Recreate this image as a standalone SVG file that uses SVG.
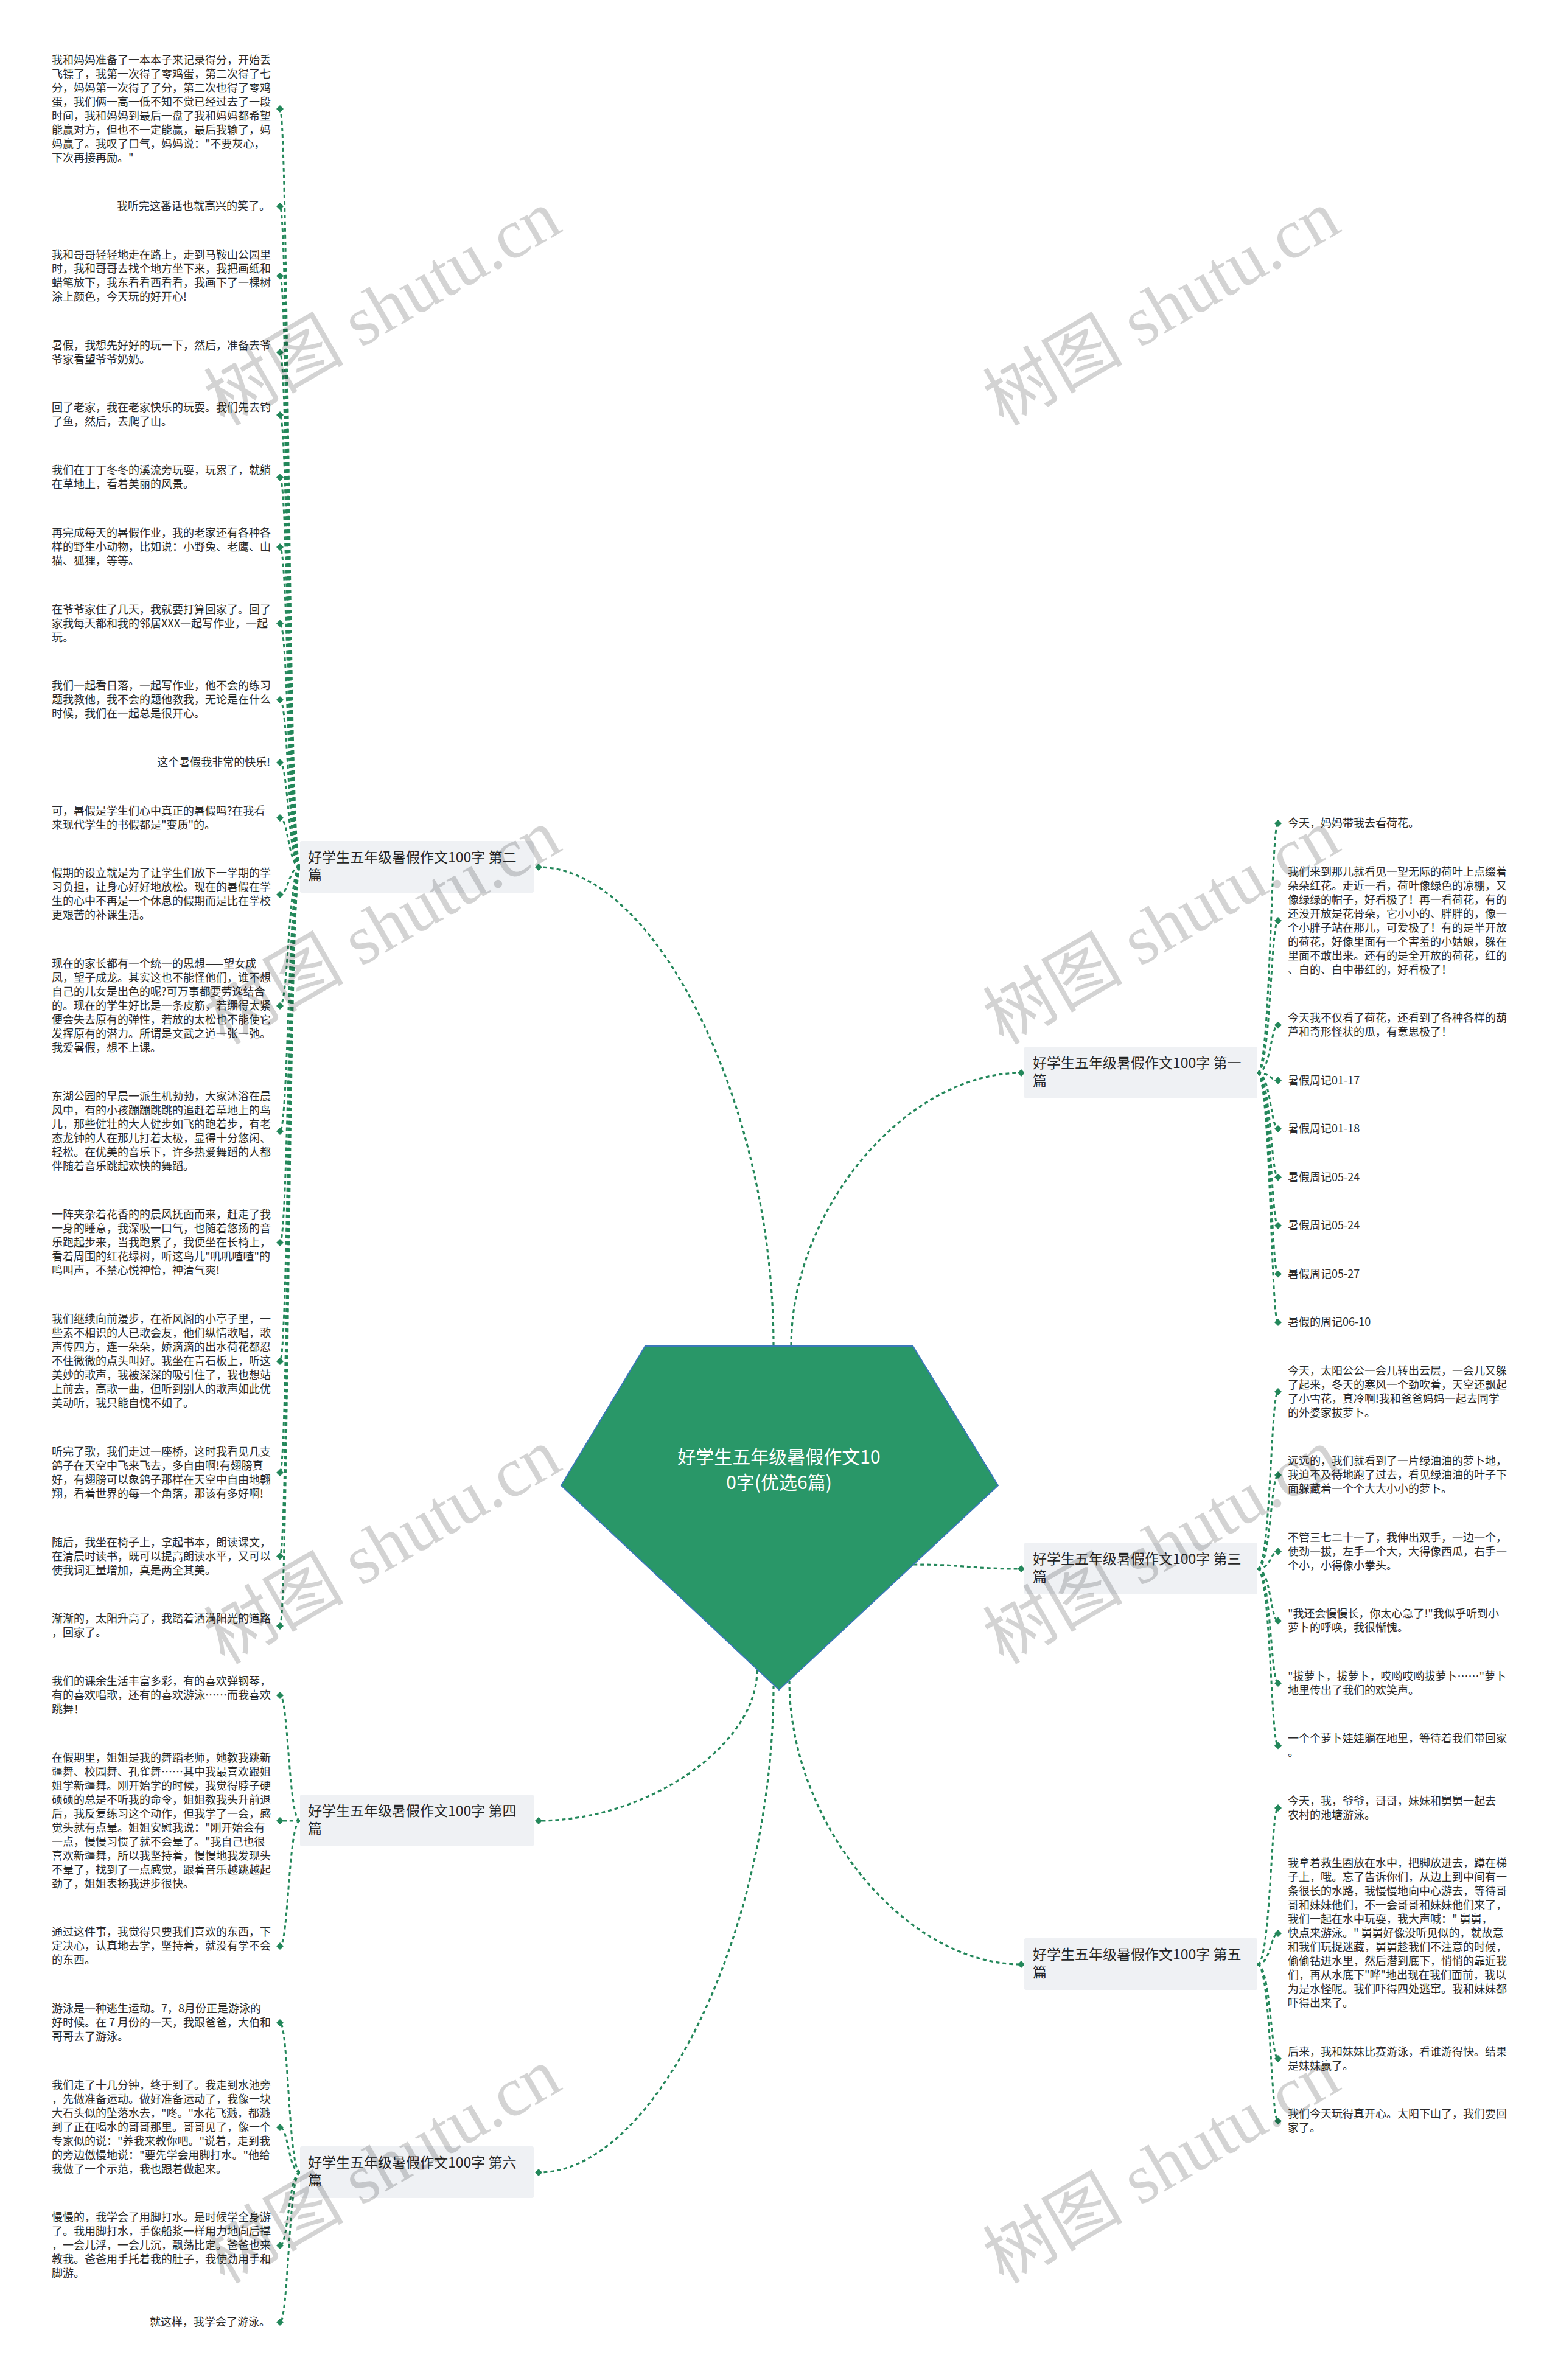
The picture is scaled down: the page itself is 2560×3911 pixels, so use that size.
<svg xmlns="http://www.w3.org/2000/svg" width="2560" height="3911" viewBox="0 0 2560 3911">
<style>
.leaf{font-family:"Noto Sans CJK SC","Noto Sans",sans-serif;font-size:18px;fill:#2b2b2b}
.br{font-family:"Noto Sans CJK SC","Noto Sans",sans-serif;font-size:23px;fill:#262626}
.box{fill:#eff1f4;stroke:none}
.conn{fill:none;stroke:#23875a;stroke-width:3.2;stroke-dasharray:6 5}
.lc{fill:none;stroke:#23875a;stroke-width:3;stroke-dasharray:6 5}
.ctext{font-family:"Noto Sans CJK SC","Noto Sans",sans-serif;font-size:30px;fill:#ffffff}
.wm{font-family:"Liberation Serif","Noto Sans CJK SC",serif;font-size:115px;fill:#000;opacity:0.17}
</style>
<defs>
<marker id="dia" viewBox="0 0 12 12" refX="6" refY="6" markerWidth="12" markerHeight="12" markerUnits="userSpaceOnUse" orient="auto">
<path d="M6 0 L12 6 L6 12 L0 6 Z" fill="#23875a"/>
</marker>
</defs>
<rect width="2560" height="3911" fill="#ffffff"/>

<g id="connectors">
<path class="conn" marker-end="url(#dia)" d="M1271 2212 C1271 1818,1078 1425,885 1425"/>
<path class="conn" marker-end="url(#dia)" d="M1300 2212 C1300 1987,1489 1763,1678 1763"/>
<path class="conn" marker-end="url(#dia)" d="M1501 2571 C1590 2571,1590 2578,1678 2578"/>
<path class="conn" marker-end="url(#dia)" d="M1244 2745 C1244 2868,1064 2992,885 2992"/>
<path class="conn" marker-end="url(#dia)" d="M1271 2770 C1271 3170,1078 3570,885 3570"/>
<path class="conn" marker-end="url(#dia)" d="M1297 2762 C1297 2995,1487 3228,1678 3228"/>
<g marker-end="url(#dia)">
<path class="lc" d="M493 1425 C474 1425,474 179,460 179"/>
<path class="lc" d="M493 1425 C474 1425,474 339,460 339"/>
<path class="lc" d="M493 1425 C474 1425,474 453.5,460 453.5"/>
<path class="lc" d="M493 1425 C474 1425,474 579,460 579"/>
<path class="lc" d="M493 1425 C474 1425,474 682,460 682"/>
<path class="lc" d="M493 1425 C474 1425,474 784.5,460 784.5"/>
<path class="lc" d="M493 1425 C474 1425,474 899,460 899"/>
<path class="lc" d="M493 1425 C474 1425,474 1024.5,460 1024.5"/>
<path class="lc" d="M493 1425 C474 1425,474 1150,460 1150"/>
<path class="lc" d="M493 1425 C474 1425,474 1253,460 1253"/>
<path class="lc" d="M493 1425 C474 1425,474 1344,460 1344"/>
<path class="lc" d="M493 1425 C474 1425,474 1470,460 1470"/>
<path class="lc" d="M493 1425 C474 1425,474 1653,460 1653"/>
<path class="lc" d="M493 1425 C474 1425,474 1859,460 1859"/>
<path class="lc" d="M493 1425 C474 1425,474 2042,460 2042"/>
<path class="lc" d="M493 1425 C474 1425,474 2237,460 2237"/>
<path class="lc" d="M493 1425 C474 1425,474 2420,460 2420"/>
<path class="lc" d="M493 1425 C474 1425,474 2557.5,460 2557.5"/>
<path class="lc" d="M493 1425 C474 1425,474 2672,460 2672"/>
<path class="lc" d="M493 2992 C474 2992,474 2786,460 2786"/>
<path class="lc" d="M493 2992 C474 2992,474 2992,460 2992"/>
<path class="lc" d="M493 2992 C474 2992,474 3198,460 3198"/>
<path class="lc" d="M493 3570 C474 3570,474 3324,460 3324"/>
<path class="lc" d="M493 3570 C474 3570,474 3496,460 3496"/>
<path class="lc" d="M493 3570 C474 3570,474 3690,460 3690"/>
<path class="lc" d="M493 3570 C474 3570,474 3816,460 3816"/>
<path class="lc" d="M2066 1763 C2088 1763,2088 1353,2100 1353"/>
<path class="lc" d="M2066 1763 C2088 1763,2088 1513,2100 1513"/>
<path class="lc" d="M2066 1763 C2088 1763,2088 1684.5,2100 1684.5"/>
<path class="lc" d="M2066 1763 C2088 1763,2088 1775.5,2100 1775.5"/>
<path class="lc" d="M2066 1763 C2088 1763,2088 1855,2100 1855"/>
<path class="lc" d="M2066 1763 C2088 1763,2088 1934.5,2100 1934.5"/>
<path class="lc" d="M2066 1763 C2088 1763,2088 2014,2100 2014"/>
<path class="lc" d="M2066 1763 C2088 1763,2088 2093.5,2100 2093.5"/>
<path class="lc" d="M2066 1763 C2088 1763,2088 2173,2100 2173"/>
<path class="lc" d="M2066 2578 C2088 2578,2088 2287,2100 2287"/>
<path class="lc" d="M2066 2578 C2088 2578,2088 2424,2100 2424"/>
<path class="lc" d="M2066 2578 C2088 2578,2088 2549.5,2100 2549.5"/>
<path class="lc" d="M2066 2578 C2088 2578,2088 2663.5,2100 2663.5"/>
<path class="lc" d="M2066 2578 C2088 2578,2088 2766,2100 2766"/>
<path class="lc" d="M2066 2578 C2088 2578,2088 2868.5,2100 2868.5"/>
<path class="lc" d="M2066 3228 C2088 3228,2088 2971,2100 2971"/>
<path class="lc" d="M2066 3228 C2088 3228,2088 3177,2100 3177"/>
<path class="lc" d="M2066 3228 C2088 3228,2088 3383,2100 3383"/>
<path class="lc" d="M2066 3228 C2088 3228,2088 3485.5,2100 3485.5"/>
</g>
</g>

<g id="center">
<polygon points="1060,2212 1500,2212 1640,2441 1280,2777 922,2441" fill="#299768" stroke="#3a78b8" stroke-width="2"/>
<text class="ctext" text-anchor="middle"><tspan x="1280" y="2405">好学生五年级暑假作文10</tspan><tspan x="1280" y="2447">0字(优选6篇)</tspan></text>
</g>

<g id="branch1">
<rect class="box" x="1683" y="1720" width="383" height="85" rx="3"/>
<text class="br"><tspan x="1697" y="1755">好学生五年级暑假作文100字 第一</tspan><tspan x="1697" y="1784">篇</tspan></text>
</g>
<g id="branch2">
<rect class="box" x="493" y="1382" width="384" height="85" rx="3"/>
<text class="br"><tspan x="506" y="1417">好学生五年级暑假作文100字 第二</tspan><tspan x="506" y="1446">篇</tspan></text>
</g>
<g id="branch3">
<rect class="box" x="1683" y="2535" width="383" height="85" rx="3"/>
<text class="br"><tspan x="1697" y="2570">好学生五年级暑假作文100字 第三</tspan><tspan x="1697" y="2599">篇</tspan></text>
</g>
<g id="branch4">
<rect class="box" x="493" y="2949" width="384" height="85" rx="3"/>
<text class="br"><tspan x="506" y="2984">好学生五年级暑假作文100字 第四</tspan><tspan x="506" y="3013">篇</tspan></text>
</g>
<g id="branch5">
<rect class="box" x="1683" y="3185" width="383" height="85" rx="3"/>
<text class="br"><tspan x="1697" y="3220">好学生五年级暑假作文100字 第五</tspan><tspan x="1697" y="3249">篇</tspan></text>
</g>
<g id="branch6">
<rect class="box" x="493" y="3527" width="384" height="85" rx="3"/>
<text class="br"><tspan x="506" y="3562">好学生五年级暑假作文100字 第六</tspan><tspan x="506" y="3591">篇</tspan></text>
</g>

<g id="leaves-left">
<text id="l2-1" class="leaf"><tspan x="85" y="104.6">我和妈妈准备了一本本子来记录得分，开始丢</tspan><tspan x="85" dy="23">飞镖了，我第一次得了零鸡蛋，第二次得了七</tspan><tspan x="85" dy="23">分，妈妈第一次得了了分，第二次也得了零鸡</tspan><tspan x="85" dy="23">蛋，我们俩一高一低不知不觉已经过去了一段</tspan><tspan x="85" dy="23">时间，我和妈妈到最后一盘了我和妈妈都希望</tspan><tspan x="85" dy="23">能赢对方，但也不一定能赢，最后我输了，妈</tspan><tspan x="85" dy="23">妈赢了。我叹了口气，妈妈说："不要灰心，</tspan><tspan x="85" dy="23">下次再接再励。"</tspan></text>
<text id="l2-2" class="leaf" x="444" y="345.3" text-anchor="end">我听完这番话也就高兴的笑了。</text>
<text id="l2-3" class="leaf"><tspan x="85" y="425">我和哥哥轻轻地走在路上，走到马鞍山公园里</tspan><tspan x="85" dy="23">时，我和哥哥去找个地方坐下来，我把画纸和</tspan><tspan x="85" dy="23">蜡笔放下，我东看看西看看，我画下了一棵树</tspan><tspan x="85" dy="23">涂上颜色，今天玩的好开心!</tspan></text>
<text id="l2-4" class="leaf"><tspan x="85" y="573.7">暑假，我想先好好的玩一下，然后，准备去爷</tspan><tspan x="85" dy="23">爷家看望爷爷奶奶。</tspan></text>
<text id="l2-5" class="leaf"><tspan x="85" y="676.4">回了老家，我在老家快乐的玩耍。我们先去钓</tspan><tspan x="85" dy="23">了鱼，然后，去爬了山。</tspan></text>
<text id="l2-6" class="leaf"><tspan x="85" y="779.1">我们在丁丁冬冬的溪流旁玩耍，玩累了，就躺</tspan><tspan x="85" dy="23">在草地上，看着美丽的风景。</tspan></text>
<text id="l2-7" class="leaf"><tspan x="85" y="881.8">再完成每天的暑假作业，我的老家还有各种各</tspan><tspan x="85" dy="23">样的野生小动物，比如说：小野兔、老鹰、山</tspan><tspan x="85" dy="23">猫、狐狸，等等。</tspan></text>
<text id="l2-8" class="leaf"><tspan x="85" y="1007.5">在爷爷家住了几天，我就要打算回家了。回了</tspan><tspan x="85" dy="23">家我每天都和我的邻居XXX一起写作业，一起</tspan><tspan x="85" dy="23">玩。</tspan></text>
<text id="l2-9" class="leaf"><tspan x="85" y="1133.2">我们一起看日落，一起写作业，他不会的练习</tspan><tspan x="85" dy="23">题我教他，我不会的题他教我，无论是在什么</tspan><tspan x="85" dy="23">时候，我们在一起总是很开心。</tspan></text>
<text id="l2-10" class="leaf" x="444" y="1258.9" text-anchor="end">这个暑假我非常的快乐!</text>
<text id="l2-11" class="leaf"><tspan x="85" y="1338.6">可，暑假是学生们心中真正的暑假吗?在我看</tspan><tspan x="85" dy="23">来现代学生的书假都是"变质"的。</tspan></text>
<text id="l2-12" class="leaf"><tspan x="85" y="1441.3">假期的设立就是为了让学生们放下一学期的学</tspan><tspan x="85" dy="23">习负担，让身心好好地放松。现在的暑假在学</tspan><tspan x="85" dy="23">生的心中不再是一个休息的假期而是比在学校</tspan><tspan x="85" dy="23">更艰苦的补课生活。</tspan></text>
<text id="l2-13" class="leaf"><tspan x="85" y="1590">现在的家长都有一个统一的思想——望女成</tspan><tspan x="85" dy="23">凤，望子成龙。其实这也不能怪他们，谁不想</tspan><tspan x="85" dy="23">自己的儿女是出色的呢?可万事都要劳逸结合</tspan><tspan x="85" dy="23">的。现在的学生好比是一条皮筋，若绷得太紧</tspan><tspan x="85" dy="23">便会失去原有的弹性，若放的太松也不能使它</tspan><tspan x="85" dy="23">发挥原有的潜力。所谓是文武之道一张一弛。</tspan><tspan x="85" dy="23">我爱暑假，想不上课。</tspan></text>
<text id="l2-14" class="leaf"><tspan x="85" y="1807.7">东湖公园的早晨一派生机勃勃，大家沐浴在晨</tspan><tspan x="85" dy="23">风中，有的小孩蹦蹦跳跳的追赶着草地上的鸟</tspan><tspan x="85" dy="23">儿，那些健壮的大人健步如飞的跑着步，有老</tspan><tspan x="85" dy="23">态龙钟的人在那儿打着太极，显得十分悠闲、</tspan><tspan x="85" dy="23">轻松。在优美的音乐下，许多热爱舞蹈的人都</tspan><tspan x="85" dy="23">伴随着音乐跳起欢快的舞蹈。</tspan></text>
<text id="l2-15" class="leaf"><tspan x="85" y="2002.4">一阵夹杂着花香的的晨风抚面而来，赶走了我</tspan><tspan x="85" dy="23">一身的睡意，我深吸一口气，也随着悠扬的音</tspan><tspan x="85" dy="23">乐跑起步来，当我跑累了，我便坐在长椅上，</tspan><tspan x="85" dy="23">看着周围的红花绿树，听这鸟儿"叽叽喳喳"的</tspan><tspan x="85" dy="23">鸣叫声，不禁心悦神怡，神清气爽!</tspan></text>
<text id="l2-16" class="leaf"><tspan x="85" y="2174.1">我们继续向前漫步，在祈风阁的小亭子里，一</tspan><tspan x="85" dy="23">些素不相识的人已歌会友，他们纵情歌唱，歌</tspan><tspan x="85" dy="23">声传四方，连一朵朵，娇滴滴的出水荷花都忍</tspan><tspan x="85" dy="23">不住微微的点头叫好。我坐在青石板上，听这</tspan><tspan x="85" dy="23">美妙的歌声，我被深深的吸引住了，我也想站</tspan><tspan x="85" dy="23">上前去，高歌一曲，但听到别人的歌声如此优</tspan><tspan x="85" dy="23">美动听，我只能自愧不如了。</tspan></text>
<text id="l2-17" class="leaf"><tspan x="85" y="2391.8">听完了歌，我们走过一座桥，这时我看见几支</tspan><tspan x="85" dy="23">鸽子在天空中飞来飞去，多自由啊!有翅膀真</tspan><tspan x="85" dy="23">好，有翅膀可以象鸽子那样在天空中自由地翱</tspan><tspan x="85" dy="23">翔，看着世界的每一个角落，那该有多好啊!</tspan></text>
<text id="l2-18" class="leaf"><tspan x="85" y="2540.5">随后，我坐在椅子上，拿起书本，朗读课文，</tspan><tspan x="85" dy="23">在清晨时读书，既可以提高朗读水平，又可以</tspan><tspan x="85" dy="23">使我词汇量增加，真是两全其美。</tspan></text>
<text id="l2-19" class="leaf"><tspan x="85" y="2666.2">渐渐的，太阳升高了，我踏着洒满阳光的道路</tspan><tspan x="85" dy="23">，回家了。</tspan></text>
<text id="l4-1" class="leaf"><tspan x="85" y="2768.9">我们的课余生活丰富多彩，有的喜欢弹钢琴，</tspan><tspan x="85" dy="23">有的喜欢唱歌，还有的喜欢游泳……而我喜欢</tspan><tspan x="85" dy="23">跳舞！</tspan></text>
<text id="l4-2" class="leaf"><tspan x="85" y="2894.6">在假期里，姐姐是我的舞蹈老师，她教我跳新</tspan><tspan x="85" dy="23">疆舞、校园舞、孔雀舞……其中我最喜欢跟姐</tspan><tspan x="85" dy="23">姐学新疆舞。刚开始学的时候，我觉得脖子硬</tspan><tspan x="85" dy="23">硕硕的总是不听我的命令，姐姐教我头升前退</tspan><tspan x="85" dy="23">后，我反复练习这个动作，但我学了一会，感</tspan><tspan x="85" dy="23">觉头就有点晕。姐姐安慰我说："刚开始会有</tspan><tspan x="85" dy="23">一点，慢慢习惯了就不会晕了。"我自己也很</tspan><tspan x="85" dy="23">喜欢新疆舞，所以我坚持着，慢慢地我发现头</tspan><tspan x="85" dy="23">不晕了，找到了一点感觉，跟着音乐越跳越起</tspan><tspan x="85" dy="23">劲了，姐姐表扬我进步很快。</tspan></text>
<text id="l4-3" class="leaf"><tspan x="85" y="3181.3">通过这件事，我觉得只要我们喜欢的东西，下</tspan><tspan x="85" dy="23">定决心，认真地去学，坚持着，就没有学不会</tspan><tspan x="85" dy="23">的东西。</tspan></text>
<text id="l6-1" class="leaf"><tspan x="85" y="3307">游泳是一种逃生运动。7，8月份正是游泳的</tspan><tspan x="85" dy="23">好时候。在 7 月份的一天，我跟爸爸，大伯和</tspan><tspan x="85" dy="23">哥哥去了游泳。</tspan></text>
<text id="l6-2" class="leaf"><tspan x="85" y="3432.7">我们走了十几分钟，终于到了。我走到水池旁</tspan><tspan x="85" dy="23">，先做准备运动。做好准备运动了，我像一块</tspan><tspan x="85" dy="23">大石头似的坠落水去，"咚。"水花飞溅，都溅</tspan><tspan x="85" dy="23">到了正在喝水的哥哥那里。哥哥见了，像一个</tspan><tspan x="85" dy="23">专家似的说："养我来教你吧。"说着，走到我</tspan><tspan x="85" dy="23">的旁边傲慢地说："要先学会用脚打水。"他给</tspan><tspan x="85" dy="23">我做了一个示范，我也跟着做起来。</tspan></text>
<text id="l6-3" class="leaf"><tspan x="85" y="3650.4">慢慢的，我学会了用脚打水。是时候学全身游</tspan><tspan x="85" dy="23">了。我用脚打水，手像船浆一样用力地向后撑</tspan><tspan x="85" dy="23">，一会儿浮，一会儿沉，飘荡比定。爸爸也来</tspan><tspan x="85" dy="23">教我。爸爸用手托着我的肚子，我使劲用手和</tspan><tspan x="85" dy="23">脚游。</tspan></text>
<text id="l6-4" class="leaf" x="444" y="3822.1" text-anchor="end">就这样，我学会了游泳。</text>
</g>

<g id="leaves-right">
<text id="r1-1" class="leaf" x="2116" y="1359">今天，妈妈带我去看荷花。</text>
<text id="r1-2" class="leaf"><tspan x="2116" y="1438.5">我们来到那儿就看见一望无际的荷叶上点缀着</tspan><tspan x="2116" dy="23">朵朵红花。走近一看，荷叶像绿色的凉棚，又</tspan><tspan x="2116" dy="23">像绿绿的帽子，好看极了！再一看荷花，有的</tspan><tspan x="2116" dy="23">还没开放是花骨朵，它小小的、胖胖的，像一</tspan><tspan x="2116" dy="23">个小胖子站在那儿，可爱极了！有的是半开放</tspan><tspan x="2116" dy="23">的荷花，好像里面有一个害羞的小姑娘，躲在</tspan><tspan x="2116" dy="23">里面不敢出来。还有的是全开放的荷花，红的</tspan><tspan x="2116" dy="23">、白的、白中带红的，好看极了！</tspan></text>
<text id="r1-3" class="leaf"><tspan x="2116" y="1679">今天我不仅看了荷花，还看到了各种各样的葫</tspan><tspan x="2116" dy="23">芦和奇形怪状的瓜，有意思极了！</tspan></text>
<text id="r1-4" class="leaf" x="2116" y="1781.5">暑假周记01-17</text>
<text id="r1-5" class="leaf" x="2116" y="1861">暑假周记01-18</text>
<text id="r1-6" class="leaf" x="2116" y="1940.5">暑假周记05-24</text>
<text id="r1-7" class="leaf" x="2116" y="2020">暑假周记05-24</text>
<text id="r1-8" class="leaf" x="2116" y="2099.5">暑假周记05-27</text>
<text id="r1-9" class="leaf" x="2116" y="2179">暑假的周记06-10</text>
<text id="r3-1" class="leaf"><tspan x="2116" y="2258.5">今天，太阳公公一会儿转出云层，一会儿又躲</tspan><tspan x="2116" dy="23">了起来，冬天的寒风一个劲吹着，天空还飘起</tspan><tspan x="2116" dy="23">了小雪花，真冷啊!我和爸爸妈妈一起去同学</tspan><tspan x="2116" dy="23">的外婆家拔萝卜。</tspan></text>
<text id="r3-2" class="leaf"><tspan x="2116" y="2407">远远的，我们就看到了一片绿油油的萝卜地，</tspan><tspan x="2116" dy="23">我迫不及待地跑了过去，看见绿油油的叶子下</tspan><tspan x="2116" dy="23">面躲藏着一个个大大小小的萝卜。</tspan></text>
<text id="r3-3" class="leaf"><tspan x="2116" y="2532.5">不管三七二十一了，我伸出双手，一边一个，</tspan><tspan x="2116" dy="23">使劲一拔，左手一个大，大得像西瓜，右手一</tspan><tspan x="2116" dy="23">个小，小得像小拳头。</tspan></text>
<text id="r3-4" class="leaf"><tspan x="2116" y="2658">"我还会慢慢长，你太心急了!"我似乎听到小</tspan><tspan x="2116" dy="23">萝卜的呼唤，我很惭愧。</tspan></text>
<text id="r3-5" class="leaf"><tspan x="2116" y="2760.5">"拔萝卜，拔萝卜，哎哟哎哟拔萝卜……"萝卜</tspan><tspan x="2116" dy="23">地里传出了我们的欢笑声。</tspan></text>
<text id="r3-6" class="leaf"><tspan x="2116" y="2863">一个个萝卜娃娃躺在地里，等待着我们带回家</tspan><tspan x="2116" dy="23">。</tspan></text>
<text id="r5-1" class="leaf"><tspan x="2116" y="2965.5">今天，我，爷爷，哥哥，妹妹和舅舅一起去</tspan><tspan x="2116" dy="23">农村的池塘游泳。</tspan></text>
<text id="r5-2" class="leaf"><tspan x="2116" y="3068">我拿着救生圈放在水中，把脚放进去，蹲在梯</tspan><tspan x="2116" dy="23">子上，哦。忘了告诉你们，从边上到中间有一</tspan><tspan x="2116" dy="23">条很长的水路，我慢慢地向中心游去，等待哥</tspan><tspan x="2116" dy="23">哥和妹妹他们，不一会哥哥和妹妹他们来了，</tspan><tspan x="2116" dy="23">我们一起在水中玩耍，我大声喊：" 舅舅，</tspan><tspan x="2116" dy="23">快点来游泳。" 舅舅好像没听见似的，就故意</tspan><tspan x="2116" dy="23">和我们玩捉迷藏，舅舅趁我们不注意的时候，</tspan><tspan x="2116" dy="23">偷偷钻进水里，然后潜到底下，悄悄的靠近我</tspan><tspan x="2116" dy="23">们，再从水底下"哗"地出现在我们面前，我以</tspan><tspan x="2116" dy="23">为是水怪呢。我们吓得四处逃窜。我和妹妹都</tspan><tspan x="2116" dy="23">吓得出来了。</tspan></text>
<text id="r5-3" class="leaf"><tspan x="2116" y="3377.5">后来，我和妹妹比赛游泳，看谁游得快。结果</tspan><tspan x="2116" dy="23">是妹妹赢了。</tspan></text>
<text id="r5-4" class="leaf"><tspan x="2116" y="3480">我们今天玩得真开心。太阳下山了，我们要回</tspan><tspan x="2116" dy="23">家了。</tspan></text>
</g>

<g id="watermarks">
<text class="wm" text-anchor="middle" transform="translate(648 540) rotate(-30)">树图 shutu.cn</text>
<text class="wm" text-anchor="middle" transform="translate(1928 540) rotate(-30)">树图 shutu.cn</text>
<text class="wm" text-anchor="middle" transform="translate(648 1557) rotate(-30)">树图 shutu.cn</text>
<text class="wm" text-anchor="middle" transform="translate(1928 1557) rotate(-30)">树图 shutu.cn</text>
<text class="wm" text-anchor="middle" transform="translate(648 2575) rotate(-30)">树图 shutu.cn</text>
<text class="wm" text-anchor="middle" transform="translate(1928 2575) rotate(-30)">树图 shutu.cn</text>
<text class="wm" text-anchor="middle" transform="translate(648 3593) rotate(-30)">树图 shutu.cn</text>
<text class="wm" text-anchor="middle" transform="translate(1928 3593) rotate(-30)">树图 shutu.cn</text>
</g>
</svg>
